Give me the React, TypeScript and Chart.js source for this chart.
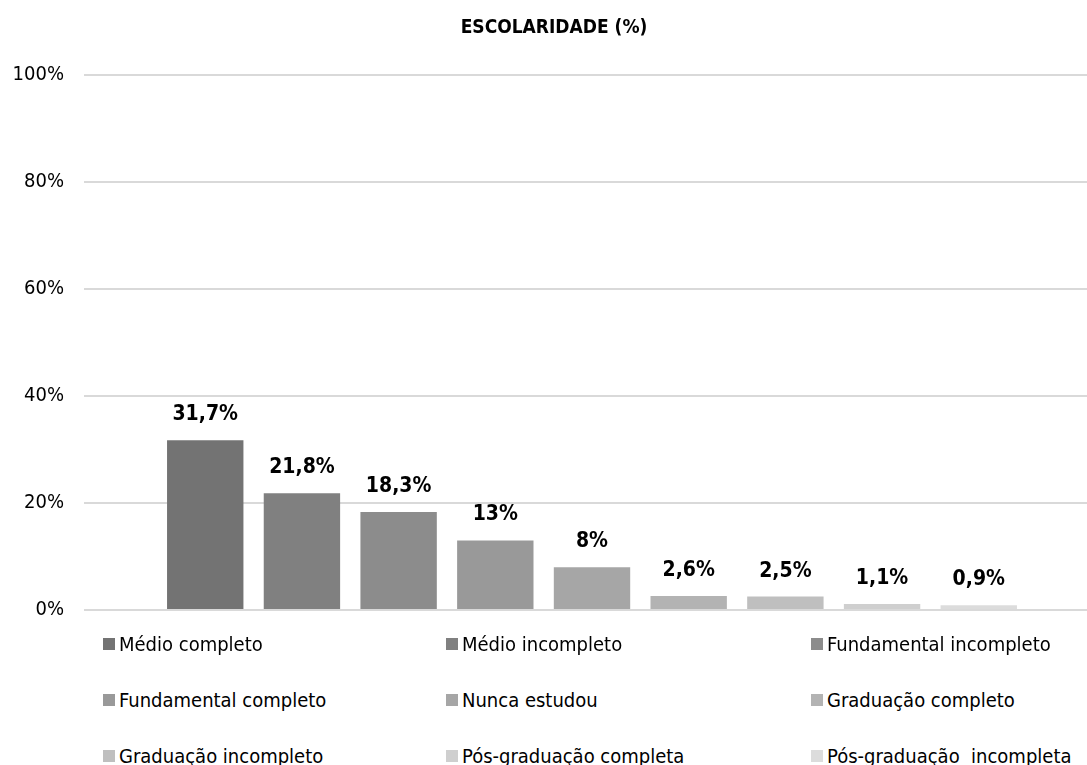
import React, { useEffect, useRef } from "react";
import { Chart, registerables } from "chart.js";

Chart.register(...registerables);

const titleText = "ESCOLARIDADE (%)";
const seriesNames = [
  "Médio completo",
  "Médio incompleto",
  "Fundamental incompleto",
  "Fundamental completo",
  "Nunca estudou",
  "Graduação completo",
  "Graduação incompleto",
  "Pós-graduação completa",
  "Pós-graduação  incompleta",
];
const seriesValues = [31.7, 21.8, 18.3, 13, 8, 2.6, 2.5, 1.1, 0.9];
const seriesColors = [
  "#737373",
  "#808080",
  "#8c8c8c",
  "#999999",
  "#a6a6a6",
  "#b3b3b3",
  "#bfbfbf",
  "#cfcfcf",
  "#dcdcdc",
];
const yTicks = [0, 20, 40, 60, 80, 100];

const FONT = "'Liberation Sans Narrow', 'Arial Narrow', 'DejaVu Sans Condensed', sans-serif";

const fmt = (v: number) => String(v).replace(".", ",") + "%";

const valueLabels = {
  id: "valueLabels",
  afterDatasetsDraw(chart: any) {
    const ctx = chart.ctx;
    ctx.save();
    ctx.font = `bold 21px ${FONT}`;
    ctx.fillStyle = "#000";
    ctx.textAlign = "center";
    ctx.textBaseline = "bottom";
    chart.data.datasets.forEach((ds: any, i: number) => {
      const meta = chart.getDatasetMeta(i);
      meta.data.forEach((bar: any, j: number) => {
        ctx.fillText(fmt(ds.data[j]), bar.x, bar.y - 15);
      });
    });
    ctx.restore();
  },
};

export default function App() {
  const ref = useRef<HTMLCanvasElement | null>(null);
  useEffect(() => {
    const chart = new Chart(ref.current as HTMLCanvasElement, {
      type: "bar",
      data: {
        labels: [""],
        datasets: seriesNames.map((n, i) => ({
          label: n,
          data: [seriesValues[i]],
          backgroundColor: seriesColors[i],
          borderWidth: 0,
        })),
      },
      options: {
        animation: false,
        responsive: false,
        maintainAspectRatio: false,
        datasets: { bar: { categoryPercentage: 0.8565, barPercentage: 0.79 } },
        layout: { padding: { left: 8, right: 0, top: 0, bottom: 8 } },
        plugins: {
          legend: { display: false },
          tooltip: { enabled: false },
          title: {
            display: true,
            text: titleText,
            color: "#000",
            font: { family: FONT, size: 19, weight: "bold" },
            padding: { top: 17, bottom: 35 },
          },
        },
        scales: {
          x: { display: false },
          y: {
            min: 0,
            max: 100,
            afterBuildTicks: (s: any) => {
              s.ticks = yTicks.map((v) => ({ value: v }));
            },
            afterFit: (s: any) => {
              s.width = 76;
            },
            border: { display: false },
            grid: { color: "#d9d9d9", lineWidth: 2, drawTicks: false },
            ticks: {
              color: "#000",
              padding: 20,
              font: { family: FONT, size: 20 },
              callback: (v: any) => v + "%",
            },
          },
        },
      },
      plugins: [valueLabels],
    });
    return () => chart.destroy();
  }, []);

  const colX = [103, 446, 811];
  const rowY = [644, 700, 756];
  return (
    <div style={{ position: "fixed", left: 0, top: 0, width: 1087, height: 765, background: "#fff", fontFamily: FONT, overflow: "hidden" }}>
      <canvas ref={ref} width={1100} height={642} style={{ position: "absolute", left: 0, top: 0 }} />
      {seriesNames.map((n, i) => (
        <div
          key={n}
          style={{
            position: "absolute",
            left: colX[i % 3],
            top: rowY[Math.floor(i / 3)] - 12,
            height: 24,
            display: "flex",
            alignItems: "center",
            fontSize: 20,
            color: "#000",
            whiteSpace: "pre",
          }}
        >
          <span style={{ display: "inline-block", width: 12, height: 12, background: seriesColors[i], marginRight: 4 }} />
          <span>{n}</span>
        </div>
      ))}
    </div>
  );
}
